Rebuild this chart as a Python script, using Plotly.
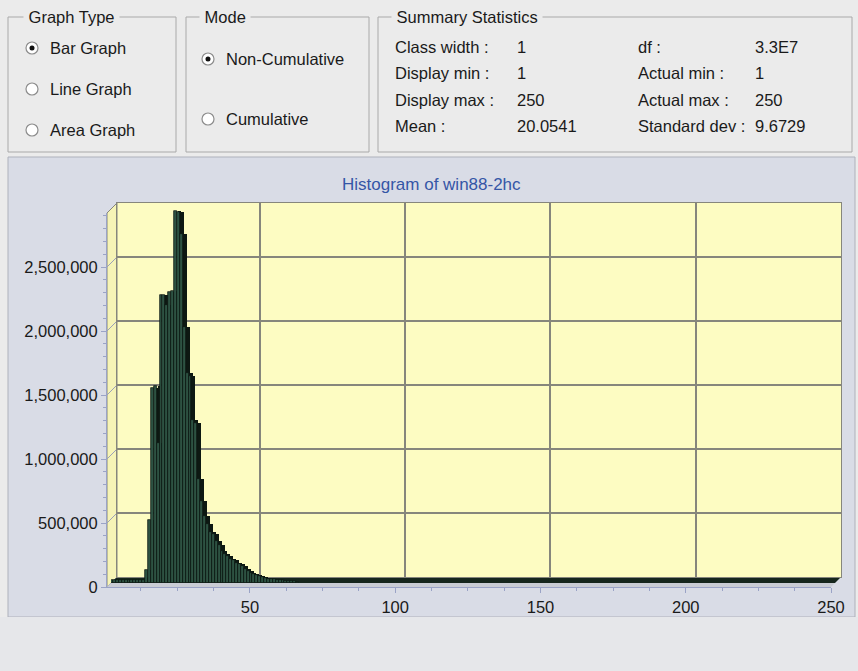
import plotly.graph_objects as go

# ---------------- data ----------------
class_values = list(range(1, 66))
counts = [
    20000, 20000, 20000, 20000, 20000, 20000, 20000, 20000, 20000, 20000,
    20000, 20000, 100000, 490000, 1520000, 1540000, 1090000, 2250000, 2250000, 2170000,
    2270000, 2280000, 2910000, 2900000, 2730000, 2000000, 1640000, 1620000, 1270000, 1250000,
    810000, 640000, 520000, 460000, 400000, 380000, 330000, 300000, 250000, 230000,
    210000, 190000, 180000, 160000, 150000, 130000, 110000, 95000, 80000, 70000,
    60000, 55000, 45000, 40000, 35000, 30000, 28000, 25000, 22000, 20000,
    18000, 16000, 14000, 12000, 10000,
]
x_ticks = [50, 100, 150, 200, 250]
y_ticks = [0, 500000, 1000000, 1500000, 2000000, 2500000]
title_text = "Histogram of win88-2hc"

graph_types = ["Bar Graph", "Line Graph", "Area Graph"]
modes = ["Non-Cumulative", "Cumulative"]
stats_left = [("Class width :", "1"), ("Display min :", "1"), ("Display max :", "250"), ("Mean :", "20.0541")]
stats_right = [("df :", "3.3E7"), ("Actual min :", "1"), ("Actual max :", "250"), ("Standard dev :", "9.6729")]

# ---------------- geometry helpers ----------------
W, H = 858, 671
def fx(px):
    return px / W
def fy(py):
    return 1 - py / H

X_RANGE = [0.8, 250]
Y_RANGE = [0, 2.922e6]
BX0, BX1, BY0, BY1 = 117, 841, 577, 203   # back wall in pixels

def plane(off):
    return dict(x=[fx(BX0 - off), fx(BX1 - off)], y=[fy(BY0 + off), fy(BY1 + off)])

back = plane(0)
depth = plane(2)
barp = plane(6)
front = plane(10)

FONT = "Liberation Sans, Arial, sans-serif"
GRID = "#86867c"
AXC = "#9aa3c6"
BG_TOP = "#ebebeb"

fig = go.Figure()

fig.add_trace(go.Scatter(x=[], y=[], xaxis="x", yaxis="y", showlegend=False, hoverinfo="skip"))

px_per_unit_y = (BY0 - BY1) / Y_RANGE[1]
depth_units = 4 / px_per_unit_y

fig.add_trace(go.Bar(x=class_values, y=counts, base=-depth_units, xaxis="x2", yaxis="y2",
                     marker=dict(color="#0d1812", line=dict(width=0)), width=1.0,
                     showlegend=False, hoverinfo="skip"))
fig.add_trace(go.Bar(x=class_values, y=counts, xaxis="x3", yaxis="y3",
                     marker=dict(color="#2d5242", line=dict(color="#0b1610", width=0.7)), width=1.0,
                     showlegend=False))
fig.add_trace(go.Scatter(x=[], y=[], xaxis="x4", yaxis="y4", showlegend=False, hoverinfo="skip"))

hidden = dict(visible=False, fixedrange=True)
fig.update_layout(
    width=W, height=H, autosize=False,
    margin=dict(l=0, r=0, t=0, b=0, pad=0, autoexpand=False),
    paper_bgcolor=BG_TOP,
    plot_bgcolor="rgba(0,0,0,0)",
    bargap=0,
    showlegend=False,
    font=dict(family=FONT, size=16, color="#1a1a1a"),
    xaxis=dict(domain=back["x"], range=X_RANGE, anchor="y", dtick=50, tick0=0,
               showgrid=True, gridcolor=GRID, gridwidth=1.5, showticklabels=False, ticks="",
               zeroline=False, showline=True, mirror=True, linecolor=GRID, linewidth=1.2),
    yaxis=dict(domain=back["y"], range=Y_RANGE, anchor="x", dtick=500000, tick0=0,
               showgrid=True, gridcolor=GRID, gridwidth=1.5, showticklabels=False, ticks="",
               zeroline=False, showline=True, mirror=True, linecolor=GRID, linewidth=1.2),
    xaxis2=dict(domain=depth["x"], range=X_RANGE, anchor="y2", **hidden),
    yaxis2=dict(domain=depth["y"], range=Y_RANGE, anchor="x2", **hidden),
    xaxis3=dict(domain=barp["x"], range=X_RANGE, anchor="y3", **hidden),
    yaxis3=dict(domain=barp["y"], range=Y_RANGE, anchor="x3", **hidden),
    xaxis4=dict(domain=front["x"], range=X_RANGE, anchor="y4", tickvals=x_ticks,
                showgrid=False, zeroline=False, showline=True, linecolor=AXC, linewidth=1,
                ticks="outside", ticklen=5, tickcolor=AXC,
                minor=dict(ticks="outside", ticklen=3, dtick=12.5, tick0=0, tickcolor=AXC),
                tickfont=dict(size=16.5, color="#1a1a1a")),
    yaxis4=dict(domain=front["y"], range=Y_RANGE, anchor="x4", tickvals=y_ticks,
                tickformat=",d", showgrid=False, zeroline=False, showline=True, linecolor=AXC,
                linewidth=1, ticks="outside", ticklen=5, tickcolor=AXC,
                minor=dict(ticks="outside", ticklen=3, dtick=100000, tick0=0, tickcolor=AXC),
                tickfont=dict(size=16.5, color="#1a1a1a")),
)

shapes = []
def rect(x0, y0, x1, y1, fill=None, line=None, lw=1, layer="below"):
    shapes.append(dict(type="rect", xref="paper", yref="paper", x0=fx(x0), x1=fx(x1),
                       y0=fy(y1), y1=fy(y0), fillcolor=fill or "rgba(0,0,0,0)",
                       line=dict(color=line or "rgba(0,0,0,0)", width=lw if line else 0), layer=layer))
def poly(pts, fill, line=None, lw=1, layer="below"):
    path = "M " + " L ".join(f"{fx(a)},{fy(b)}" for a, b in pts) + " Z"
    shapes.append(dict(type="path", xref="paper", yref="paper", path=path, fillcolor=fill,
                       line=dict(color=line or "rgba(0,0,0,0)", width=lw if line else 0), layer=layer))
def seg(x0, y0, x1, y1, color, lw=1, layer="below"):
    shapes.append(dict(type="line", xref="paper", yref="paper", x0=fx(x0), y0=fy(y0), x1=fx(x1), y1=fy(y1),
                       line=dict(color=color, width=lw), layer=layer))

rect(8, 157, 855, 617, fill="#d9dce6", line="#aeb1bb")
rect(0, 617, 858, 671, fill="#e6e7ea")
rect(BX0, BY1, BX1, BY0, fill="#fdfcc2")
poly([(BX0 - 10, BY1 + 10), (BX0, BY1), (BX0, BY0), (BX0 - 10, BY0 + 10)], "#f6f4b6", line=GRID, lw=1)
for v in y_ticks:
    yb = BY0 - v * px_per_unit_y
    seg(BX0 - 10, yb + 10, BX0, yb, "#9aa0b8", 1)
poly([(BX0, BY0), (BX1, BY0), (BX1 - 6, BY0 + 6), (BX0 - 6, BY0 + 6)], "#16261d")
poly([(BX0 - 6, BY0 + 6), (BX1 - 6, BY0 + 6), (BX1 - 10, BY0 + 10), (BX0 - 10, BY0 + 10)], "#c9ccd4")

rect(8, 17, 176, 152, line="#a9a9a9")
rect(186, 17, 369, 152, line="#a9a9a9")
rect(378, 17, 852, 152, line="#a9a9a9")

annotations = []
def text(x, y, s, size=16.5, color="#1a1a1a", anchor="left", bg=None):
    annotations.append(dict(x=fx(x), y=fy(y), xref="paper", yref="paper", text=s, showarrow=False,
                            xanchor=anchor, yanchor="middle", font=dict(family=FONT, size=size, color=color),
                            bgcolor=bg, borderpad=0))

text(23, 17, " Graph Type ", bg=BG_TOP)
text(199, 17, " Mode ", bg=BG_TOP)
text(391, 17, " Summary Statistics ", bg=BG_TOP)

def radio(cx, cy, selected):
    shapes.append(dict(type="circle", xref="paper", yref="paper", x0=fx(cx - 6), x1=fx(cx + 6),
                       y0=fy(cy + 6), y1=fy(cy - 6), fillcolor="#ffffff",
                       line=dict(color="#8c8c8c", width=1.2), layer="above"))
    if selected:
        shapes.append(dict(type="circle", xref="paper", yref="paper", x0=fx(cx - 2.5), x1=fx(cx + 2.5),
                           y0=fy(cy + 2.5), y1=fy(cy - 2.5), fillcolor="#111111",
                           line=dict(width=0), layer="above"))

for i, (name, yy) in enumerate(zip(graph_types, [48, 89, 130])):
    radio(32, yy, i == 0)
    text(49, yy, name)
for i, (name, yy) in enumerate(zip(modes, [59, 119])):
    radio(208, yy, i == 0)
    text(225, yy, name)

for (lab, val), yy in zip(stats_left, [47, 73.5, 100, 126]):
    text(394, yy, lab)
    text(516, yy, val)
for (lab, val), yy in zip(stats_right, [47, 73.5, 100, 126]):
    text(637, yy, lab)
    text(754, yy, val)

text(431, 185, title_text, size=17, color="#3556a6", anchor="center")

fig.update_layout(shapes=shapes, annotations=annotations)
post = "document.body.style.margin='0';document.body.style.overflow='hidden';"
fig.write_html("out.html", config={"displayModeBar": False, "responsive": False},
               default_width="858px", default_height="671px", post_script=post)
